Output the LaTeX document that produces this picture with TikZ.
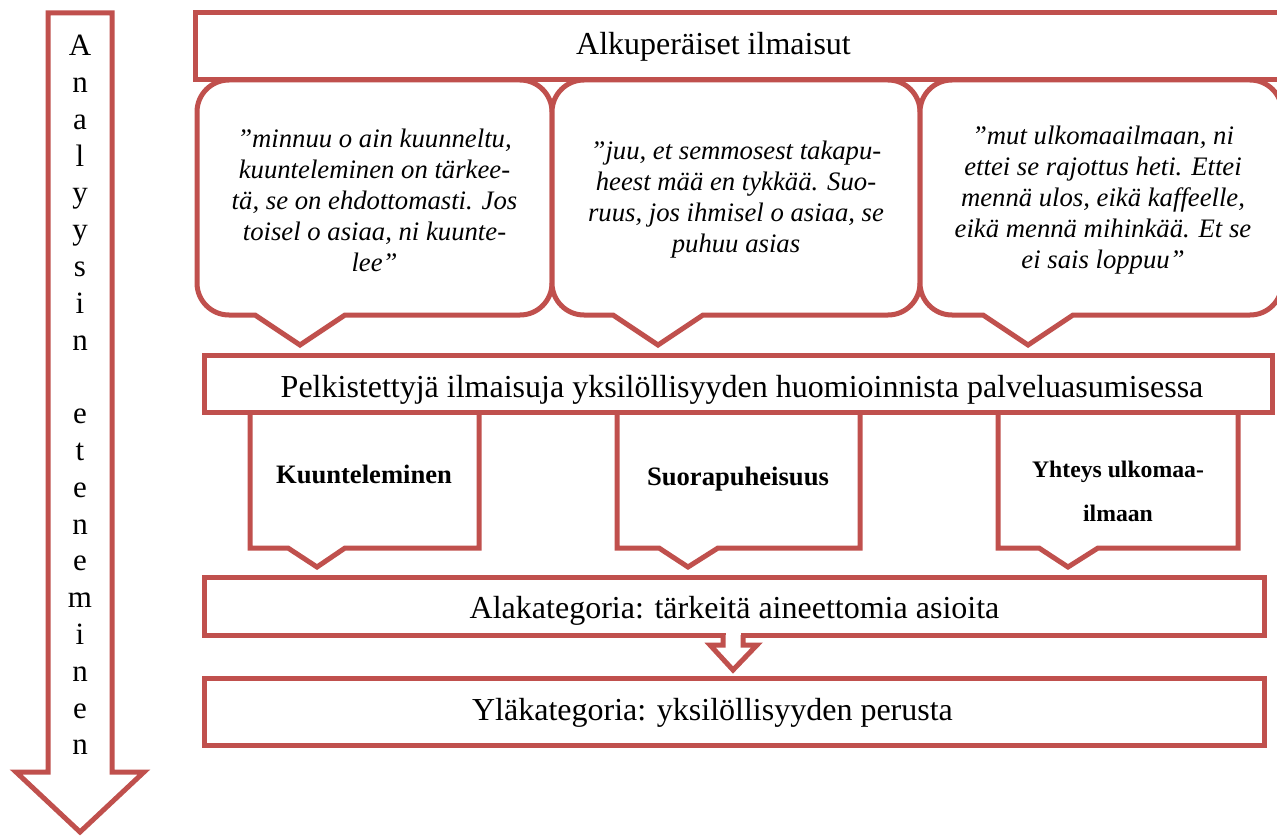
\documentclass[tikz,border=0pt]{standalone}
\usepackage{fontspec}
\setmainfont{Liberation Serif}
\definecolor{acc}{HTML}{C0504D}
\newcommand\bubble[8]{%
 \draw[frame] (#5,#4) -- ({#1+32},#4) .. controls ({#1+14.3},#4) and (#1,{#4-14.3}) .. (#1,{#4-32})
 -- (#1,{#3+32}) .. controls (#1,{#3+14.3}) and ({#1+14.3},#3) .. ({#1+32},#3)
 -- ({#2-32},#3) .. controls ({#2-14.3},#3) and (#2,{#3+14.3}) .. (#2,{#3+32})
 -- (#2,{#4-32}) .. controls (#2,{#4-14.3}) and ({#2-14.3},#4) .. ({#2-32},#4)
 -- (#7,#4) -- (#6,#8) -- cycle;}
\newcommand\tagbox[5]{%
 \draw[frame] (#1,412) -- (#1,548) -- (#3,548) -- (#4,567) -- (#5,548) -- (#2,548) -- (#2,412);}
\begin{document}
\begin{tikzpicture}[x=1pt,y=-1pt,
  frame/.style={draw=acc, line width=5pt, line join=miter, fill=white},
  lbl/.style={inner sep=0pt, anchor=base, font=\fontsize{32}{38}\selectfont},
  quote/.style={inner sep=0pt, align=center, font=\fontsize{26.7}{31}\selectfont\itshape},
  tag/.style={inner sep=0pt, align=center, anchor=base, font=\fontsize{26.6}{32}\selectfont\bfseries},
]
\useasboundingbox (0,0) rectangle (1277,837);

% progress arrow
\draw[frame] (48,13) -- (112,13) -- (112,772) -- (144,772) -- (80,832) -- (16,772) -- (48,772) -- cycle;
\node[inner sep=0pt, anchor=north, align=center, font=\fontsize{31}{36.8}\selectfont] (vert) at (80,35)
  {A\\n\\a\\l\\y\\y\\s\\i\\n\\\mbox{}\\e\\t\\e\\n\\e\\m\\i\\n\\e\\n};

% top box
\draw[frame] (195,13) rectangle (1300,80);
\node[lbl] (top) at (713.5,55) {Alkuperäiset ilmaisut};

% callouts
\bubble{197}{552}{80}{315}{255}{300}{345}{345}
\bubble{552}{920}{80}{315}{613}{658}{703}{345}
\bubble{920}{1282}{80}{315}{983}{1028}{1073}{345}
\node[quote] (q1) at (374.5,200) {”minnuu o ain kuunneltu,\\kuunteleminen on tärkee-\\tä, se on ehdottomasti. Jos\\toisel o asiaa, ni kuunte-\\lee”};
\node[quote] (q2) at (736,200) {”juu, et semmosest takapu-\\heest mää en tykkää. Suo-\\ruus, jos ihmisel o asiaa, se\\puhuu asias};
\node[quote] (q3) at (1103,200) {”mut ulkomaailmaan, ni\\ettei se rajottus heti. Ettei\\mennä ulos, eikä kaffeelle,\\eikä mennä mihinkää. Et se\\ei sais loppuu”};

% small boxes
\tagbox{250}{479}{288}{317}{345}
\tagbox{617}{860}{659}{688}{718}
\tagbox{998}{1238}{1039}{1068}{1098}

% reduced expressions box
\draw[frame] (204,355) rectangle (1272,412);
\node[lbl] (pel) at (742,397) {Pelkistettyjä ilmaisuja yksilöllisyyden huomioinnista palveluasumisessa};

\node[tag] (k1) at (364,483) {Kuunteleminen};
\node[tag] (k2) at (738,485) {Suorapuheisuus};
\node[inner sep=0pt, align=center, anchor=north, font=\fontsize{23.7}{44}\selectfont\bfseries] (k3) at (1118,461) {Yhteys ulkomaa-\\ilmaan};

% sub category
\draw[frame] (204,577) rectangle (1264,635);
\node[lbl] (ala) at (734.5,618) {Alakategoria: tärkeitä aineettomia asioita};

% upper category
\draw[frame] (204,678) rectangle (1264,745);
\node[lbl] (yla) at (712.5,720) {Yläkategoria: yksilöllisyyden perusta};

% small block arrow
\fill[white] (725.5,632) rectangle (740.5,640);
\draw[frame] (723,635) -- (723,645) -- (710,645) -- (733,670) -- (757,645) -- (743,645) -- (743,635);
\end{tikzpicture}
\end{document}
